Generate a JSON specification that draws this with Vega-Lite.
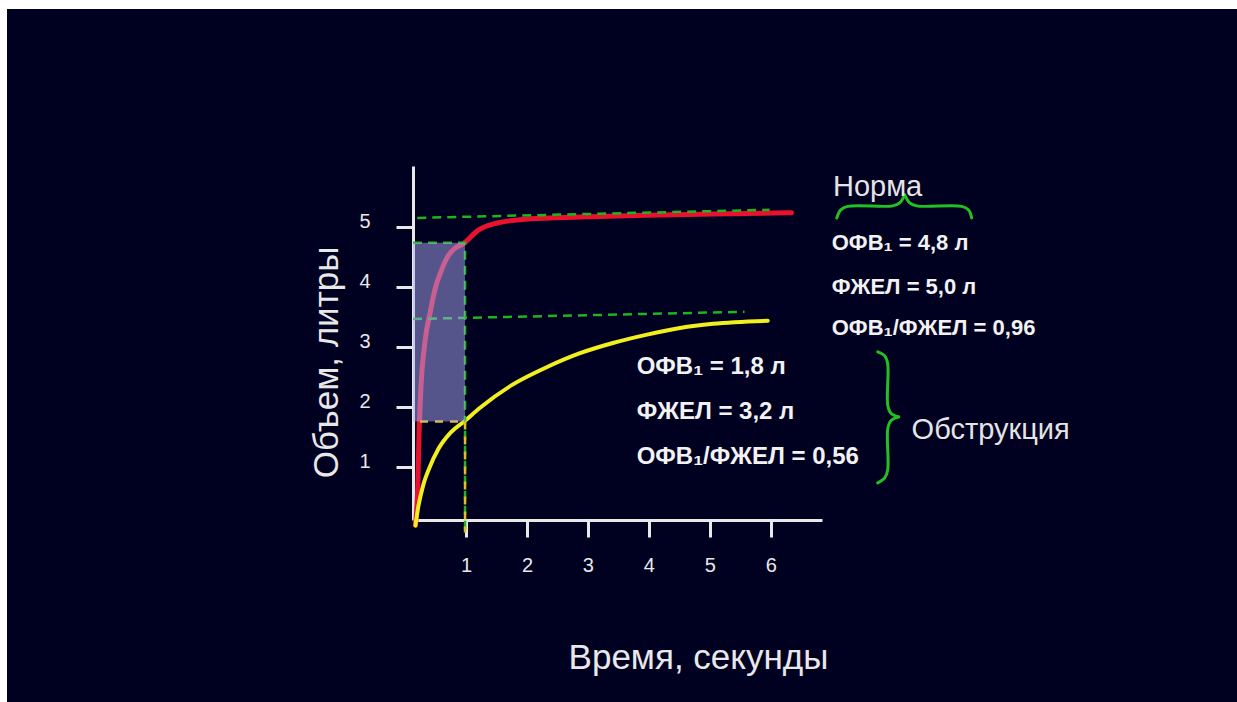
{
  "$schema": "https://vega.github.io/schema/vega-lite/v6.json",
  "width": 1230,
  "height": 693,
  "autosize": {"type": "none"},
  "padding": {"left": 7, "top": 9, "right": 0, "bottom": 0},
  "background": "#ffffff",
  "config": {
    "view": {"fill": "#000021", "stroke": null},
    "font": "Liberation Sans",
    "axis": {
      "grid": false,
      "domainColor": "#e8e8e8",
      "domainWidth": 3,
      "tickColor": "#e8e8e8",
      "tickWidth": 3,
      "tickSize": 17,
      "labelColor": "#e8e8e8",
      "labelFontSize": 20,
      "labelFont": "Liberation Sans",
      "format": "d",
      "titleColor": "#e8e8e8",
      "titleFont": "Liberation Sans",
      "titleFontWeight": "normal"
    }
  },
  "datasets": {
    "curves": [
      {"s": "norm", "x": 0.17, "y": 0.02},
      {"s": "norm", "x": 0.21, "y": 0.73},
      {"s": "norm", "x": 0.23, "y": 1.56},
      {"s": "norm", "x": 0.25, "y": 2.11},
      {"s": "norm", "x": 0.33, "y": 3.11},
      {"s": "norm", "x": 0.41, "y": 3.56},
      {"s": "norm", "x": 0.49, "y": 3.95},
      {"s": "norm", "x": 0.6, "y": 4.28},
      {"s": "norm", "x": 0.7, "y": 4.5},
      {"s": "norm", "x": 0.82, "y": 4.64},
      {"s": "norm", "x": 0.95, "y": 4.71},
      {"s": "norm", "x": 1.2, "y": 4.94},
      {"s": "norm", "x": 1.51, "y": 5.06},
      {"s": "norm", "x": 2.05, "y": 5.13},
      {"s": "norm", "x": 2.87, "y": 5.16},
      {"s": "norm", "x": 3.97, "y": 5.19},
      {"s": "norm", "x": 5.05, "y": 5.21},
      {"s": "norm", "x": 6.34, "y": 5.23},
      {"s": "obst", "x": 0.17, "y": 0.02},
      {"s": "obst", "x": 0.22, "y": 0.35},
      {"s": "obst", "x": 0.3, "y": 0.7},
      {"s": "obst", "x": 0.4, "y": 0.98},
      {"s": "obst", "x": 0.55, "y": 1.3},
      {"s": "obst", "x": 0.75, "y": 1.57},
      {"s": "obst", "x": 0.98, "y": 1.76},
      {"s": "obst", "x": 1.23, "y": 1.98},
      {"s": "obst", "x": 1.77, "y": 2.37},
      {"s": "obst", "x": 2.33, "y": 2.66},
      {"s": "obst", "x": 2.87, "y": 2.89},
      {"s": "obst", "x": 3.41, "y": 3.06},
      {"s": "obst", "x": 3.97, "y": 3.2},
      {"s": "obst", "x": 4.51, "y": 3.31},
      {"s": "obst", "x": 5.05, "y": 3.38},
      {"s": "obst", "x": 5.95, "y": 3.43}
    ],
    "dash": [
      {"id": "g1", "c": "g", "ord": 0, "x": 0.2, "y": 5.145},
      {"id": "g1", "c": "g", "ord": 1, "x": 5.98, "y": 5.28},
      {"id": "g2", "c": "g", "ord": 0, "x": 0.13, "y": 3.46},
      {"id": "g2", "c": "g", "ord": 1, "x": 5.57, "y": 3.58},
      {"id": "g3", "c": "g", "ord": 0, "x": 0.13, "y": 4.73},
      {"id": "g3", "c": "g", "ord": 1, "x": 0.984, "y": 4.73},
      {"id": "g3", "c": "g", "ord": 2, "x": 0.984, "y": -0.1},
      {"id": "y1", "c": "y", "ord": 0, "x": 0.13, "y": 1.75},
      {"id": "y1", "c": "y", "ord": 1, "x": 0.984, "y": 1.75},
      {"id": "y1", "c": "y", "ord": 2, "x": 0.984, "y": -0.1}
    ],
    "box": [
      {"x": 0.13, "x2": 0.984, "y": 1.75, "y2": 4.73}
    ],
    "braces": [
      {"part": "n1", "ord": 0, "x": 7.082, "y": 5.145},
      {"part": "n1", "ord": 1, "x": 7.148, "y": 5.278},
      {"part": "n1", "ord": 2, "x": 7.262, "y": 5.337},
      {"part": "n1", "ord": 3, "x": 8.0, "y": 5.345},
      {"part": "n1", "ord": 4, "x": 8.115, "y": 5.395},
      {"part": "n1", "ord": 5, "x": 8.197, "y": 5.528},
      {"part": "n2", "ord": 0, "x": 8.197, "y": 5.528},
      {"part": "n2", "ord": 1, "x": 8.279, "y": 5.395},
      {"part": "n2", "ord": 2, "x": 8.393, "y": 5.345},
      {"part": "n2", "ord": 3, "x": 9.131, "y": 5.337},
      {"part": "n2", "ord": 4, "x": 9.246, "y": 5.278},
      {"part": "n2", "ord": 5, "x": 9.295, "y": 5.145},
      {"part": "o1", "ord": 0, "x": 7.754, "y": 2.912},
      {"part": "o1", "ord": 1, "x": 7.869, "y": 2.845},
      {"part": "o1", "ord": 2, "x": 7.918, "y": 2.712},
      {"part": "o1", "ord": 3, "x": 7.918, "y": 2.028},
      {"part": "o1", "ord": 4, "x": 7.967, "y": 1.895},
      {"part": "o1", "ord": 5, "x": 8.098, "y": 1.828},
      {"part": "o2", "ord": 0, "x": 8.098, "y": 1.828},
      {"part": "o2", "ord": 1, "x": 7.967, "y": 1.762},
      {"part": "o2", "ord": 2, "x": 7.918, "y": 1.628},
      {"part": "o2", "ord": 3, "x": 7.918, "y": 0.945},
      {"part": "o2", "ord": 4, "x": 7.869, "y": 0.812},
      {"part": "o2", "ord": 5, "x": 7.754, "y": 0.728}
    ],
    "labels": [
      {"label": "Норма", "x": 7.02, "y": 5.66},
      {"label": "Обструкция", "x": 8.31, "y": 1.61}
    ],
    "norm": [
      {"label": "ОФВ₁ = 4,8 л", "x": 7.0, "y": 4.725},
      {"label": "ФЖЕЛ = 5,0 л", "x": 7.0, "y": 4.0},
      {"label": "ОФВ₁/ФЖЕЛ = 0,96", "x": 7.0, "y": 3.31}
    ],
    "obst": [
      {"label": "ОФВ₁ = 1,8 л", "x": 3.8, "y": 2.66},
      {"label": "ФЖЕЛ = 3,2 л", "x": 3.8, "y": 1.91},
      {"label": "ОФВ₁/ФЖЕЛ = 0,56", "x": 3.8, "y": 1.16}
    ]
  },
  "layer": [
    {
      "data": {"name": "curves"},
      "transform": [{"filter": "datum.s === 'norm'"}],
      "mark": {"type": "line", "interpolate": "monotone", "color": "#e8122e", "strokeWidth": 5, "strokeCap": "round"},
      "encoding": {
        "x": {
          "field": "x", "type": "quantitative",
          "scale": {"domain": [0.13, 6.84], "range": [406, 815], "nice": false, "zero": false},
          "axis": {
            "values": [1, 2, 3, 4, 5, 6],
            "offset": -182,
            "labelPadding": 18,
            "title": "Время, секунды",
            "titleFontSize": 35,
            "titleX": 691,
            "titleY": 148,
            "titleBaseline": "alphabetic",
            "titleAlign": "center"
          }
        },
        "y": {
          "field": "y", "type": "quantitative",
          "scale": {"domain": [0.11, 6.01], "range": [511, 157], "nice": false, "zero": false},
          "axis": {
            "values": [1, 2, 3, 4, 5],
            "offset": -406,
            "labelPadding": 26,
            "labelOffset": -5,
            "title": "Объем, литры",
            "titleFontSize": 35,
            "titleAngle": 270,
            "titleX": -76,
            "titleY": 353,
            "titleBaseline": "alphabetic",
            "titleAlign": "center"
          }
        }
      }
    },
    {
      "data": {"name": "curves"},
      "transform": [{"filter": "datum.s === 'obst'"}],
      "mark": {"type": "line", "interpolate": "monotone", "color": "#f2ef1e", "strokeWidth": 4, "strokeCap": "round"},
      "encoding": {
        "x": {"field": "x", "type": "quantitative"},
        "y": {"field": "y", "type": "quantitative"}
      }
    },
    {
      "data": {"name": "dash"},
      "transform": [{"filter": "datum.c === 'g'"}],
      "mark": {"type": "line", "color": "#1fb51f", "strokeWidth": 2.5, "strokeDash": [9, 6]},
      "encoding": {
        "x": {"field": "x", "type": "quantitative"},
        "y": {"field": "y", "type": "quantitative"},
        "detail": {"field": "id"},
        "order": {"field": "ord", "type": "quantitative"}
      }
    },
    {
      "data": {"name": "dash"},
      "transform": [{"filter": "datum.c === 'y'"}],
      "mark": {"type": "line", "color": "#e0bf20", "strokeWidth": 2.5, "strokeDash": [8, 7], "strokeDashOffset": 8},
      "encoding": {
        "x": {"field": "x", "type": "quantitative"},
        "y": {"field": "y", "type": "quantitative"},
        "detail": {"field": "id"},
        "order": {"field": "ord", "type": "quantitative"}
      }
    },
    {
      "data": {"name": "box"},
      "mark": {"type": "rect", "color": "#aaaaf5", "opacity": 0.5},
      "encoding": {
        "x": {"field": "x", "type": "quantitative"},
        "x2": {"field": "x2"},
        "y": {"field": "y", "type": "quantitative"},
        "y2": {"field": "y2"}
      }
    },
    {
      "data": {"name": "braces"},
      "mark": {"type": "line", "interpolate": "catmull-rom", "color": "#22c022", "strokeWidth": 3, "strokeCap": "round"},
      "encoding": {
        "x": {"field": "x", "type": "quantitative"},
        "y": {"field": "y", "type": "quantitative"},
        "detail": {"field": "part"},
        "order": {"field": "ord", "type": "quantitative"}
      }
    },
    {
      "data": {"name": "labels"},
      "mark": {"type": "text", "align": "left", "baseline": "middle", "font": "Liberation Sans", "fontSize": 29, "color": "#e4e4e4"},
      "encoding": {
        "x": {"field": "x", "type": "quantitative"},
        "y": {"field": "y", "type": "quantitative"},
        "text": {"field": "label"}
      }
    },
    {
      "data": {"name": "norm"},
      "mark": {"type": "text", "align": "left", "baseline": "middle", "font": "Liberation Sans", "fontSize": 22, "fontWeight": "bold", "color": "#f2f2f2"},
      "encoding": {
        "x": {"field": "x", "type": "quantitative"},
        "y": {"field": "y", "type": "quantitative"},
        "text": {"field": "label"}
      }
    },
    {
      "data": {"name": "obst"},
      "mark": {"type": "text", "align": "left", "baseline": "middle", "font": "Liberation Sans", "fontSize": 24, "fontWeight": "bold", "color": "#f2f2f2"},
      "encoding": {
        "x": {"field": "x", "type": "quantitative"},
        "y": {"field": "y", "type": "quantitative"},
        "text": {"field": "label"}
      }
    }
  ]
}
